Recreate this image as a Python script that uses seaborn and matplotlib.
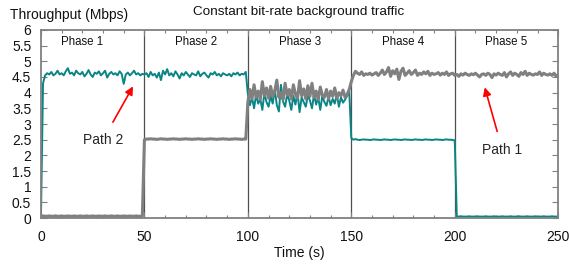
import numpy as np
import pandas as pd
import matplotlib
matplotlib.use("Agg")
import matplotlib.pyplot as plt
import seaborn as sns

# time axis, one sample per second
time_s = np.arange(0, 251)

# Path 1 (gray) throughput per phase, Mbps
path1_p1 = [0.06, 0.07, 0.06, 0.06, 0.07, 0.06, 0.06, 0.07, 0.06, 0.06,
            0.07, 0.06, 0.06, 0.07, 0.06, 0.06, 0.07, 0.06, 0.06, 0.07,
            0.06, 0.06, 0.07, 0.06, 0.06, 0.07, 0.06, 0.06, 0.07, 0.06,
            0.06, 0.07, 0.06, 0.06, 0.07, 0.06, 0.06, 0.07, 0.06, 0.06,
            0.07, 0.06, 0.06, 0.07, 0.06, 0.06, 0.07, 0.06, 0.06, 0.06]
path1_p2 = [2.50, 2.52, 2.52, 2.53, 2.52, 2.52, 2.51, 2.52, 2.53, 2.52,
            2.52, 2.51, 2.52, 2.52, 2.53, 2.52, 2.52, 2.51, 2.52, 2.52,
            2.53, 2.52, 2.52, 2.51, 2.52, 2.52, 2.53, 2.52, 2.52, 2.51,
            2.52, 2.52, 2.53, 2.52, 2.52, 2.51, 2.52, 2.52, 2.53, 2.52,
            2.52, 2.51, 2.52, 2.52, 2.53, 2.52, 2.52, 2.51, 2.52, 2.52]
path1_p3 = [3.70, 4.10, 3.80, 4.25, 3.85, 4.05, 3.78, 4.35, 3.90, 4.15,
            3.82, 4.20, 3.88, 4.05, 4.40, 3.85, 4.00, 3.78, 4.30, 3.92,
            4.10, 3.80, 4.25, 3.95, 3.82, 4.38, 3.90, 4.12, 3.80, 4.22,
            3.88, 4.30, 3.85, 4.05, 3.78, 4.18, 3.92, 3.85, 4.10, 3.80,
            4.05, 3.88, 4.15, 3.82, 4.00, 3.90, 4.08, 3.85, 3.95, 4.10]
path1_p4 = [4.35, 4.55, 4.68, 4.62, 4.58, 4.66, 4.55, 4.60, 4.58, 4.62,
            4.56, 4.60, 4.64, 4.55, 4.62, 4.72, 4.58, 4.66, 4.80, 4.52,
            4.70, 4.60, 4.75, 4.42, 4.68, 4.78, 4.55, 4.62, 4.70, 4.58,
            4.64, 4.72, 4.55, 4.62, 4.58, 4.66, 4.60, 4.68, 4.55, 4.62,
            4.58, 4.60, 4.64, 4.56, 4.62, 4.58, 4.66, 4.55, 4.60, 4.62]
path1_p5 = [4.55, 4.58, 4.52, 4.60, 4.56, 4.62, 4.58, 4.55, 4.60, 4.57,
            4.62, 4.56, 4.50, 4.58, 4.60, 4.55, 4.62, 4.58, 4.48, 4.60,
            4.56, 4.62, 4.58, 4.55, 4.64, 4.50, 4.60, 4.66, 4.55, 4.62,
            4.58, 4.52, 4.64, 4.58, 4.68, 4.55, 4.62, 4.58, 4.56, 4.60,
            4.58, 4.66, 4.55, 4.62, 4.58, 4.56, 4.60, 4.55, 4.62, 4.52, 4.58]

# Path 2 (teal) throughput per phase, Mbps
path2_p1 = [0.05, 4.30, 4.55, 4.62, 4.58, 4.66, 4.55, 4.60, 4.70, 4.58,
            4.62, 4.55, 4.68, 4.78, 4.60, 4.64, 4.55, 4.70, 4.62, 4.58,
            4.66, 4.52, 4.60, 4.72, 4.58, 4.50, 4.64, 4.60, 4.68, 4.55,
            4.62, 4.70, 4.48, 4.60, 4.66, 4.58, 4.62, 4.55, 4.68, 4.60,
            4.28, 4.58, 4.64, 4.55, 4.62, 4.70, 4.58, 4.62, 4.55, 4.60]
path2_p2 = [4.58, 4.62, 4.50, 4.66, 4.55, 4.60, 4.48, 4.64, 4.40, 4.70,
            4.58, 4.75, 4.55, 4.62, 4.52, 4.68, 4.58, 4.45, 4.62, 4.55,
            4.66, 4.58, 4.50, 4.62, 4.58, 4.55, 4.68, 4.52, 4.60, 4.64,
            4.55, 4.48, 4.62, 4.58, 4.66, 4.55, 4.60, 4.52, 4.62, 4.58,
            4.55, 4.60, 4.52, 4.62, 4.58, 4.64, 4.55, 4.60, 4.58, 4.66]
path2_p3 = [3.95, 3.60, 3.85, 3.50, 3.95, 3.65, 3.80, 3.45, 4.00, 3.70,
            3.55, 3.90, 3.65, 4.10, 3.60, 3.40, 4.25, 3.72, 3.55, 3.95,
            3.75, 3.45, 3.90, 3.62, 4.00, 3.38, 3.85, 3.70, 3.55, 3.92,
            3.75, 3.50, 3.95, 3.62, 3.85, 3.45, 3.90, 3.70, 3.58, 3.88,
            3.60, 3.80, 3.65, 3.95, 3.55, 3.85, 3.68, 3.78, 3.90, 4.05]
path2_p4 = [2.55, 2.50, 2.52, 2.50, 2.49, 2.50, 2.51, 2.50, 2.50, 2.49,
            2.50, 2.51, 2.50, 2.50, 2.49, 2.50, 2.51, 2.50, 2.50, 2.49,
            2.50, 2.51, 2.50, 2.50, 2.49, 2.50, 2.51, 2.50, 2.50, 2.49,
            2.50, 2.51, 2.50, 2.50, 2.49, 2.50, 2.51, 2.50, 2.50, 2.49,
            2.50, 2.51, 2.50, 2.50, 2.49, 2.50, 2.51, 2.50, 2.50, 2.49]
path2_p5 = [2.48, 0.05, 0.05, 0.06, 0.05, 0.05, 0.05, 0.06, 0.05, 0.05,
            0.05, 0.06, 0.05, 0.05, 0.05, 0.06, 0.05, 0.05, 0.05, 0.06,
            0.05, 0.05, 0.05, 0.06, 0.05, 0.05, 0.05, 0.06, 0.05, 0.05,
            0.05, 0.06, 0.05, 0.05, 0.05, 0.06, 0.05, 0.05, 0.05, 0.06,
            0.05, 0.05, 0.05, 0.06, 0.05, 0.05, 0.05, 0.06, 0.05, 0.05, 0.05]

phase_names = ["Phase 1", "Phase 2", "Phase 3", "Phase 4", "Phase 5"]
phase_label_x = [20, 75, 125, 175, 225]
phase_bounds = [50, 100, 150, 200]

path1 = path1_p1 + path1_p2 + path1_p3 + path1_p4 + path1_p5
path2 = path2_p1 + path2_p2 + path2_p3 + path2_p4 + path2_p5

df = pd.DataFrame({
    "Time": np.concatenate([time_s, time_s]),
    "Throughput": path2 + path1,
    "Path": ["Path 2"] * len(time_s) + ["Path 1"] * len(time_s),
})

sns.set_theme(style="white")
plt.rcParams["font.family"] = ["Liberation Sans", "DejaVu Sans"]

fig, ax = plt.subplots(figsize=(5.69, 2.67), dpi=100)
fig.subplots_adjust(left=0.072, right=0.981, bottom=0.183, top=0.888)

sns.lineplot(data=df[df.Path == "Path 2"], x="Time", y="Throughput",
             color="#0a8585", linewidth=1.4, ax=ax, legend=False)
sns.lineplot(data=df[df.Path == "Path 1"], x="Time", y="Throughput",
             color="#808080", linewidth=2.2, ax=ax, legend=False)

for b in phase_bounds:
    ax.axvline(b, color="#505050", linewidth=0.9, zorder=0.5)

for name, px in zip(phase_names, phase_label_x):
    ax.text(px, 5.6, name, ha="center", va="center", fontsize=8.3, color="#111111")

ax.set_xlim(0, 250)
ax.set_ylim(0, 6)
ax.set_xticks([0, 50, 100, 150, 200, 250])
ax.set_xticks(np.arange(0, 251, 10), minor=True)
ax.set_yticks(np.arange(0, 6.01, 0.5))
ax.set_yticklabels(["0", "0.5", "1", "1.5", "2", "2.5", "3", "3.5", "4", "4.5", "5", "5.5", "6"])
ax.tick_params(axis="both", which="both", direction="in", color="#808080",
               labelsize=10, labelcolor="#111111", top=True, right=True,
               bottom=True, left=True)
ax.tick_params(axis="both", which="major", length=4, width=0.8)
ax.tick_params(axis="x", which="minor", length=2, width=0.8)
ax.tick_params(axis="x", pad=8.5)
ax.tick_params(axis="y", pad=7)
ax.set_xlabel("")
ax.set_ylabel("")
for s in ax.spines.values():
    s.set_color("#808080")
    s.set_linewidth(1.3)

# annotations
ax.annotate("Path 2", xy=(44.5, 4.2), xytext=(30, 2.5), fontsize=10,
            ha="center", va="center",
            arrowprops=dict(arrowstyle="-|>", color="red", lw=1.2,
                            mutation_scale=12, shrinkA=6, shrinkB=0))
ax.annotate("Path 1", xy=(214.5, 4.17), xytext=(223, 2.18), fontsize=10,
            ha="center", va="center",
            arrowprops=dict(arrowstyle="-|>", color="red", lw=1.2,
                            mutation_scale=12, shrinkA=6, shrinkB=0))

fig.text(10 / 569, 1 - 15 / 267, "Throughput (Mbps)", fontsize=10,
         ha="left", va="center", color="#111111")
fig.text(299 / 569, 1 - 12 / 267, "Constant bit-rate background traffic",
         fontsize=9.7, ha="center", va="center", color="#111111")
fig.text(299 / 569, 1 - 253 / 267, "Time (s)", fontsize=10,
         ha="center", va="center", color="#111111")

fig.savefig("out.png", dpi=100, facecolor="white")
